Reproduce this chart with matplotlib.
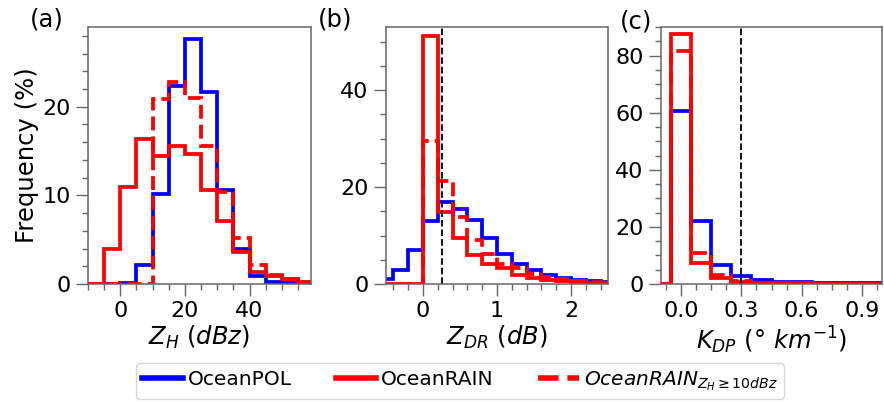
import numpy as np
import matplotlib
matplotlib.use("Agg")
import matplotlib.pyplot as plt
from matplotlib.ticker import AutoMinorLocator, MultipleLocator

# ---- binned frequencies (%) ----
zh_edges = np.arange(-10, 65, 5)
zh_pol = [0, 0, 0.1, 2.2, 10.2, 22.3, 27.7, 21.7, 10.6, 3.9, 0.9, 0.2, 0.1, 0.05]
zh_rain = [0, 3.9, 10.9, 16.4, 14.4, 15.6, 14.7, 10.6, 7.1, 3.6, 1.4, 0.9, 0.6, 0.2]
zh_rain10 = [0, 0, 0, 0, 20.9, 22.8, 21.0, 15.6, 10.4, 5.2, 2.1, 1.0, 0.6, 0.2]

zdr_edges = np.round(np.arange(-0.6, 2.7, 0.2), 2)
zdr_pol = [1.1, 2.8, 7.1, 12.9, 16.9, 15.5, 13.2, 9.5, 6.1, 4.2, 2.8, 1.8, 1.3, 0.8, 0.55, 0.35]
zdr_rain = [0, 0, 0, 51.1, 14.9, 9.4, 6.0, 4.2, 3.2, 1.8, 1.3, 0.9, 0.6, 0.4, 0.3, 0.15]
zdr_rain10 = [0, 0, 0, 29.5, 21.2, 13.9, 9.1, 6.2, 4.2, 3.2, 2.1, 1.5, 1.0, 0.6, 0.4, 0.2]

kdp_edges = np.round(np.arange(-0.15, 1.1, 0.1), 2)
kdp_pol = [0, 60.5, 22.2, 6.7, 2.8, 1.4, 0.8, 0.6, 0.45, 0.35, 0.25, 0.2]
kdp_rain = [0, 87.7, 7.3, 2.0, 0.8, 0.45, 0.3, 0.2, 0.15, 0.1, 0.1, 0.05]
kdp_rain10 = [0, 81.7, 10.8, 3.2, 1.1, 0.5, 0.3, 0.2, 0.15, 0.1, 0.1, 0.05]

zdr_thresh = 0.25
kdp_thresh = 0.3

plt.rcParams["font.size"] = 16
plt.rcParams["mathtext.default"] = "it"
label_fs = 17.5

fig = plt.figure(figsize=(8.84, 4.04), dpi=100)
W, H = 884, 404


def px_axes(left, right, top, bottom):
    return fig.add_axes([left / W, 1 - bottom / H, (right - left) / W, (bottom - top) / H])


ax_a = px_axes(88, 311, 27, 284)
ax_b = px_axes(386, 608, 27, 284)
ax_c = px_axes(661, 882, 27, 284)

lw = 2.7
for ax, edges, pol, rain, rain10 in [
    (ax_a, zh_edges, zh_pol, zh_rain, zh_rain10),
    (ax_b, zdr_edges, zdr_pol, zdr_rain, zdr_rain10),
    (ax_c, kdp_edges, kdp_pol, kdp_rain, kdp_rain10),
]:
    ax.stairs(pol, edges, color="blue", lw=lw, label="OceanPOL")
    ax.stairs(rain, edges, color="red", lw=lw, label="OceanRAIN")
    ax.stairs(rain10, edges, color="red", lw=lw, ls="--",
              label=r"$OceanRAIN_{Z_H \geq 10dBz}$")
    ax.xaxis.set_minor_locator(AutoMinorLocator())
    ax.yaxis.set_minor_locator(AutoMinorLocator())
    ax.tick_params(which="major", length=8.5, width=1, color="#666666", pad=4)
    ax.tick_params(which="minor", length=4.5, width=1, color="#666666")
    for sp in ax.spines.values():
        sp.set_color("#666666")
        sp.set_linewidth(1.1)

ax_a.set_xlim(-10, 59)
ax_a.set_ylim(0, 29)
ax_a.xaxis.set_major_locator(MultipleLocator(20))
ax_a.yaxis.set_major_locator(MultipleLocator(10))
ax_a.set_xlabel(r"$Z_H\ (dBz)$", fontsize=label_fs, labelpad=2)
ax_a.set_ylabel("Frequency (%)", fontsize=label_fs, labelpad=2)

ax_b.set_xlim(-0.5, 2.5)
ax_b.set_ylim(0, 53)
ax_b.xaxis.set_major_locator(MultipleLocator(1))
ax_b.yaxis.set_major_locator(MultipleLocator(20))
ax_b.axvline(zdr_thresh, color="black", ls="--", lw=1.3)
ax_b.set_xlabel(r"$Z_{DR}\ (dB)$", fontsize=label_fs, labelpad=2)

ax_c.set_xlim(-0.1, 1.0)
ax_c.set_ylim(0, 90)
ax_c.xaxis.set_major_locator(MultipleLocator(0.3))
ax_c.yaxis.set_major_locator(MultipleLocator(20))
ax_c.axvline(kdp_thresh, color="black", ls="--", lw=1.3)
ax_c.set_xlabel(r"$K_{DP}\ (\degree\ km^{-1})$", fontsize=label_fs, labelpad=2)

for x, y, s in [(30, 20, "(a)"), (318, 20, "(b)"), (620, 22, "(c)")]:
    fig.text(x / W, 1 - y / H, s, fontsize=label_fs, ha="left", va="center")

handles, labels = ax_a.get_legend_handles_labels()
leg_handles = [plt.Line2D([], [], color=h.get_edgecolor(), lw=4, ls=h.get_linestyle())
               for h in handles]
fig.legend(leg_handles, labels, loc="center", bbox_to_anchor=(460 / W, 1 - 381 / H),
           ncol=3, fontsize=14.5, frameon=True, fancybox=True, edgecolor="#cccccc",
           handlelength=2.0, handletextpad=0.25, columnspacing=2.2,
           borderpad=0.3)

fig.savefig("out.png", dpi=100)
